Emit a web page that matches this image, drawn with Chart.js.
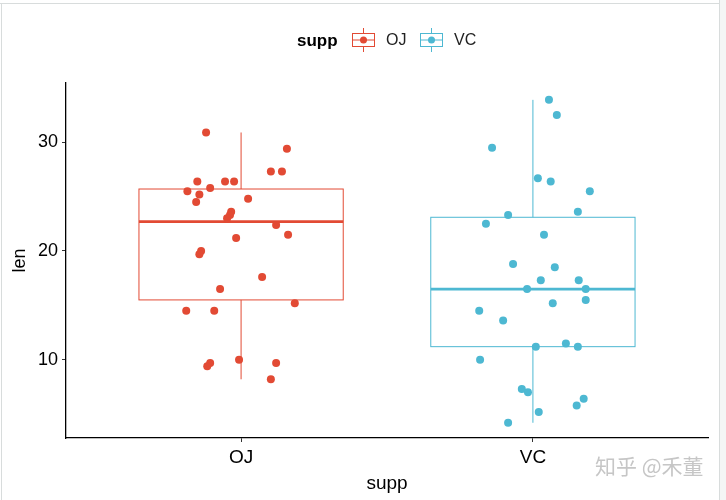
<!DOCTYPE html>
<html>
<head>
<meta charset="utf-8">
<script src="https://cdn.jsdelivr.net/npm/chart.js@4.4.0/dist/chart.umd.min.js"></script>
<style>
  html, body { margin: 0; padding: 0; background: #fff; }
  #wrap { position: relative; width: 726px; height: 500px; overflow: hidden; }
  .edge { position: absolute; background: #d8dcdc; }
</style>
</head>
<body>
<div id="wrap">
  <canvas id="myChartTooth" width="726" height="500"></canvas>
  <div class="edge" style="left:0;top:3px;width:726px;height:1px"></div>
  <div class="edge" style="left:1px;top:3px;width:1px;height:497px"></div>
  <div class="edge" style="left:719px;top:0;width:1px;height:500px"></div>
  <div style="position:absolute;left:720px;top:0;width:6px;height:500px;background:#f4f5f5"></div>
</div>
<script>
const categories = ['OJ', 'VC']
const colors = ['#E24A34', '#4DB8D2']

// jittered points (x is the jittered category position)
const ojX = [0.880, 1.157, 1.102, 1.140, 0.850, 0.945, 0.976, 0.816, 0.857, 0.894,
             0.846, 1.024, 0.966, 0.962, 0.952, 1.120, 1.161, 0.983, 0.863, 0.857,
             1.072, 0.928, 1.184, 0.812, 0.908, 0.894, 0.884, 0.993, 1.120, 1.102]
const ojLen = [30.9, 29.4, 27.3, 27.3, 26.4, 26.4, 26.4, 25.5, 25.2, 25.8,
               24.5, 24.8, 23.6, 23.3, 23.0, 22.4, 21.5, 21.2, 20.0, 19.7,
               17.6, 16.5, 15.2, 14.5, 14.5, 9.7, 9.4, 10.0, 9.7, 8.2]
const vcX = [2.055, 2.082, 1.860, 2.017, 2.061, 2.195, 2.154, 1.915, 1.839, 2.038,
             1.932, 2.075, 2.027, 2.157, 1.980, 2.181, 2.068, 2.181, 1.816, 1.898,
             2.010, 2.113, 2.154, 1.819, 1.962, 1.983, 2.174, 2.150, 2.020, 1.915]
const vcLen = [33.9, 32.5, 29.5, 26.7, 26.4, 25.5, 23.6, 23.3, 22.5, 21.5,
               18.8, 18.5, 17.3, 17.3, 16.5, 16.5, 15.2, 15.5, 14.5, 13.6,
               11.2, 11.5, 11.2, 10.0, 7.3, 7.0, 6.4, 5.8, 5.2, 4.2]

// box statistics per category
const whiskerLow = [8.2, 4.2]
const q1 = [15.5, 11.2]
const median = [22.7, 16.5]
const q3 = [25.7, 23.1]
const whiskerHigh = [30.9, 33.9]

const yTicks = [10, 20, 30]

const boxHalf = 0.35
const font = 'Arial, "Liberation Sans", sans-serif'

const boxPlugin = {
    id: 'boxes',
    beforeDatasetsDraw(chart) {
        const { ctx, scales: { x, y } } = chart
        categories.forEach((c, i) => {
            const cx = x.getPixelForValue(i + 1)
            const l = x.getPixelForValue(i + 1 - boxHalf)
            const r = x.getPixelForValue(i + 1 + boxHalf)
            ctx.save()
            ctx.strokeStyle = colors[i]
            ctx.lineWidth = 1
            // whiskers
            ctx.beginPath()
            ctx.moveTo(cx, y.getPixelForValue(q3[i]))
            ctx.lineTo(cx, y.getPixelForValue(whiskerHigh[i]))
            ctx.moveTo(cx, y.getPixelForValue(q1[i]))
            ctx.lineTo(cx, y.getPixelForValue(whiskerLow[i]))
            ctx.stroke()
            // box
            const top = y.getPixelForValue(q3[i])
            const bot = y.getPixelForValue(q1[i])
            ctx.strokeRect(l, top, r - l, bot - top)
            // median
            ctx.lineWidth = 2.8
            ctx.beginPath()
            ctx.moveTo(l, y.getPixelForValue(median[i]))
            ctx.lineTo(r, y.getPixelForValue(median[i]))
            ctx.stroke()
            ctx.restore()
        })
    },
    afterDraw(chart) {
        const ctx = chart.ctx
        ctx.save()
        // legend
        ctx.fillStyle = '#000'
        ctx.textBaseline = 'middle'
        ctx.font = 'bold 17px ' + font
        ctx.fillText('supp', 297, 41)
        const keys = [352, 420]
        categories.forEach((c, i) => {
            const kx = keys[i], ky = 40
            ctx.strokeStyle = colors[i]
            ctx.lineWidth = 1
            ctx.beginPath()
            ctx.moveTo(kx + 11.5, ky - 12)
            ctx.lineTo(kx + 11.5, ky - 6.5)
            ctx.moveTo(kx + 11.5, ky + 6.5)
            ctx.lineTo(kx + 11.5, ky + 12)
            ctx.stroke()
            ctx.strokeRect(kx + 0.5, ky - 6.5, 22, 13)
            ctx.beginPath()
            ctx.moveTo(kx, ky)
            ctx.lineTo(kx + 23, ky)
            ctx.stroke()
            ctx.fillStyle = colors[i]
            ctx.beginPath()
            ctx.arc(kx + 11.5, ky, 3.5, 0, Math.PI * 2)
            ctx.fill()
            ctx.fillStyle = '#222'
            ctx.font = '16px ' + font
            ctx.fillText(c, kx + 34, ky + 1)
        })
        // watermark
        ctx.fillStyle = '#c6c6c6'
        ctx.font = '21px "Noto Sans CJK SC", sans-serif'
        ctx.fillText('知乎 @禾董', 595, 466)
        ctx.restore()
    }
}

const ctx = document.getElementById('myChartTooth')
const myChartTooth = new Chart(ctx, {
    type: 'scatter',
    data: {
        datasets: [{
            label: 'OJ',
            data: ojX.map((v, i) => ({ x: v, y: ojLen[i] })),
            backgroundColor: colors[0],
            borderWidth: 0,
            pointRadius: 4
        }, {
            label: 'VC',
            data: vcX.map((v, i) => ({ x: v, y: vcLen[i] })),
            backgroundColor: colors[1],
            borderWidth: 0,
            pointRadius: 4
        }]
    },
    options: {
        responsive: false,
        animation: false,
        layout: { padding: { top: 83, right: 18, left: 0, bottom: 0 } },
        plugins: {
            legend: { display: false },
            tooltip: { enabled: false }
        },
        scales: {
            x: {
                type: 'linear',
                min: 0.4,
                max: 2.6,
                afterBuildTicks: s => { s.ticks = categories.map((c, i) => ({ value: i + 1 })) },
                afterFit: s => { s.height = 62 },
                ticks: {
                    callback: v => categories[v - 1],
                    color: '#000',
                    padding: 4,
                    maxRotation: 0,
                    font: { family: font, size: 19 }
                },
                grid: { drawOnChartArea: false, drawTicks: true, tickLength: 4, color: '#333' },
                border: { display: true, color: '#000', width: 1.3 },
                title: {
                    display: true,
                    text: 'supp',
                    color: '#000',
                    padding: { top: 0, bottom: 5 },
                    font: { family: font, size: 19 }
                }
            },
            y: {
                min: 2.8,
                max: 35.45,
                afterBuildTicks: s => { s.ticks = yTicks.map(v => ({ value: v })) },
                afterFit: s => { s.width = 66 },
                ticks: {
                    color: '#000',
                    padding: 4,
                    font: { family: font, size: 18 }
                },
                grid: { drawOnChartArea: false, drawTicks: true, tickLength: 4, color: '#333' },
                border: { display: true, color: '#000', width: 1.3 },
                title: {
                    display: true,
                    text: 'len',
                    color: '#000',
                    padding: { top: 9, bottom: 0 },
                    font: { family: font, size: 18 }
                }
            }
        }
    },
    plugins: [boxPlugin]
})
</script>
</body>
</html>
